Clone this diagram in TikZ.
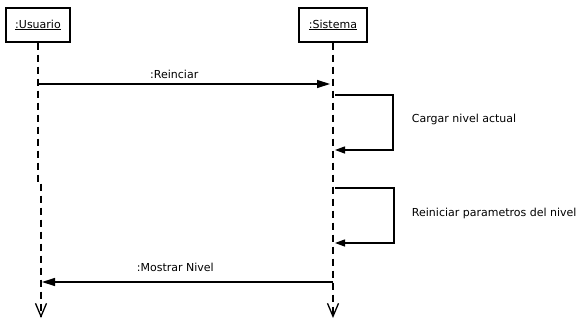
\documentclass[tikz,border=0pt]{standalone}
\usepackage{fontspec}
\setmainfont{DejaVu Sans}
\usetikzlibrary{arrows.meta,positioning}

\begin{document}
\begin{tikzpicture}[x=1pt,y=-1pt,line width=1.3pt,
    obj/.style={draw,fill=white,minimum width=64pt,minimum height=34pt,inner sep=2pt},
    life/.style={dash pattern=on 7pt off 5pt,-{Straight Barb[length=13pt,width=11pt]}},
    msg/.style={-{Triangle[length=13pt,width=8pt]}},
    every node/.style={font=\fontsize{11}{13}\selectfont}]

  \useasboundingbox (0,0) rectangle (577,321);

  \node[obj] (usuario) at (38,25) {\underline{:Usuario}};
  \node[obj,minimum width=68pt] (sistema) at (333,25) {\underline{:Sistema}};

  % lifelines
  \coordinate (ujog) at (38,183);
  \coordinate (uend) at (41,318);
  \coordinate (send) at (333,318);
  \draw[life] (usuario) -- (ujog) -| (uend);
  \draw[life] (sistema) -- (send);

  % messages
  \coordinate (u1) at (39,84);
  \coordinate (s1) at (333,84);
  \coordinate (s2) at (335,95);
  \coordinate (s3) at (335,150);
  \coordinate (s4) at (335,188);
  \coordinate (s5) at (335,243);
  \coordinate (s6) at (333,282);
  \coordinate (u6) at (41,282);

  \draw[msg,shorten >=3pt] (u1) -- node[pos=.46,above=1pt] {:Reinciar} (s1);
  \draw[msg,-{Triangle[length=10pt,width=7pt]}] (s2) -- ++(58,0) -- node[right=15pt,yshift=3pt] {Cargar nivel actual} ++(0,55) -- (s3);
  \draw[msg,-{Triangle[length=10pt,width=7pt]}] (s4) -- ++(59,0) -- node[right=14pt,yshift=2pt] {Reiniciar parametros del nivel} ++(0,55) -- (s5);
  \draw[msg,shorten >=1pt] (s6) -- node[pos=.54,above=6pt] {:Mostrar Nivel} (u6);

\end{tikzpicture}
\end{document}
